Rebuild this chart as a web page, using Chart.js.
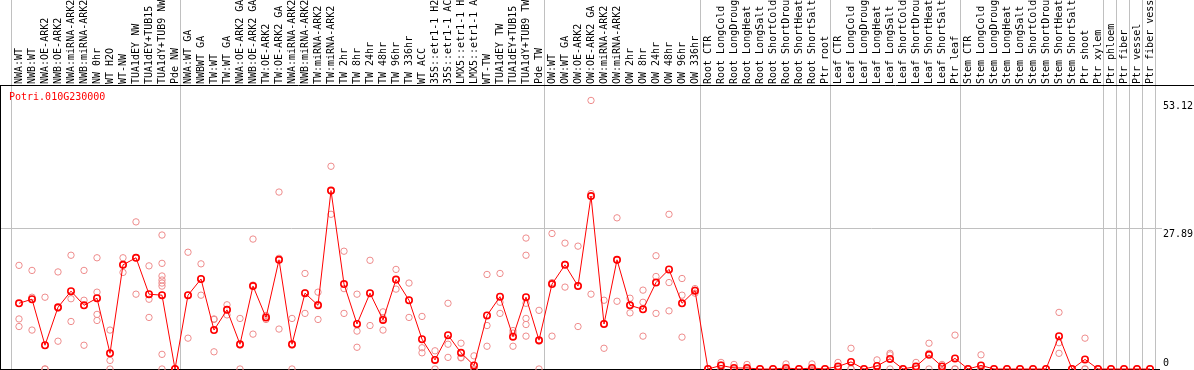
<!DOCTYPE html>
<html><head><meta charset="utf-8">
<script src="https://cdn.jsdelivr.net/npm/chart.js@4/dist/chart.umd.min.js"></script>
<style>html,body{margin:0;padding:0;background:#fff;overflow:hidden;}</style>
</head><body>
<canvas id="c" width="1194" height="370" style="display:block;width:1194px;height:370px"></canvas>
<script>
const geneName = "Potri.010G230000";
const categories = [
 "NWA:WT","NWB:WT","NWA:OE-ARK2","NWB:OE-ARK2","NWA:miRNA-ARK2","NWB:miRNA-ARK2","NW 0hr","WT H2O","WT-NW","TUA1dEY NW","TUA1dEY+TUB15","TUA1dY+TUB9 NW","Pde NW",
 "NWA:WT GA","NWBWT GA","TW:WT","TW:WT GA","NWA:OE-ARK2 GA","NWB:OE-ARK2 GA","TW:OE-ARK2","TW:OE-ARK2 GA","NWA:miRNA-ARK2 GA","NWB:miRNA-ARK2 GA","TW:miRNA-ARK2","TW:miRNA-ARK2",
 "TW 2hr","TW 8hr","TW 24hr","TW 48hr","TW 96hr","TW 336hr","WT ACC","35S::etr1-1 H2O","35S::etr1-1 ACC","LMX5::etr1-1 H2O","LMX5::etr1-1 ACC","WT-TW","TUA1dEY TW","TUA1dEY+TUB15","TUA1dY+TUB9 TW","Pde TW",
 "OW:WT","OW:WT GA","OW:OE-ARK2","OW:OE-ARK2 GA","OW:miRNA-ARK2","OW:miRNA-ARK2","OW 2hr","OW 8hr","OW 24hr","OW 48hr","OW 96hr","OW 336hr",
 "Root CTR","Root LongCold","Root LongDrought","Root LongHeat","Root LongSalt","Root ShortCold","Root ShortDrought","Root ShortHeat","Root ShortSalt","Ptr root",
 "Leaf CTR","Leaf LongCold","Leaf LongDrought","Leaf LongHeat","Leaf LongSalt","Leaf ShortCold","Leaf ShortDrought","Leaf ShortHeat","Leaf ShortSalt","Ptr leaf",
 "Stem CTR","Stem LongCold","Stem LongDrought","Stem LongHeat","Stem LongSalt","Stem ShortCold","Stem ShortDrought","Stem ShortHeat","Stem ShortSalt","Ptr shoot","Ptr xylem",
 "Ptr phloem","Ptr fiber","Ptr vessel","Ptr fiber vessel"
];
const meanValues = [
 13.0,13.8,4.7,12.2,15.4,12.6,14.0,3.1,20.6,22.0,14.8,14.6,0,
 14.6,17.8,7.7,11.7,4.9,16.4,10.2,21.6,4.9,15.0,12.6,35.3,
 16.8,8.9,15.0,9.7,17.7,13.6,5.9,1.8,6.7,3.2,0.7,10.6,14.3,6.4,14.2,5.7,
 16.8,20.6,16.4,34.2,8.9,21.6,12.6,11.8,17.1,19.7,13.0,15.5,
 0,0.7,0.2,0.2,0,0,0.2,0,0.2,0,
 0.5,1.4,0,0.6,2.0,0,0.5,2.8,0.5,2.1,
 0,0.7,0,0,0,0,0,6.5,0,1.9,0,
 0,0,0,0
];
const replicateValues = [
 [20.5,9.9,8.4],[19.5,14.2,7.7],[14.2,0,0],[19.2,12.0,5.5],[22.5,13.9,9.4],[19.5,13.6,4.7],[22.0,15.2,10.8,9.6],[7.7,1.7,0],[22.0,20.6,19.1],[29.1,22.0,14.8],[20.4,13.8,10.2],[26.5,20.9,18.4,17.6,17.0,16.4,14.6,2.9,0],[0,0,0],
 [23.1,14.6,6.1],[20.8,17.8,14.6],[9.9,9.8,3.4],[12.7,11.7,10.7],[10.0,4.7,0],[25.7,16.6,6.9],[10.6,10.2,9.8],[35.0,21.9,7.9],[10.0,4.7,0],[18.9,15.1,11.0],[15.2,12.8,9.8],[40.1,35.2,30.6],
 [23.3,15.9,11.0],[14.8,7.5,4.3],[21.5,15.0,8.6],[11.3,10.1,7.7],[19.7,17.6,15.8],[17.0,13.6,10.2],[10.4,4.2,3.2],[3.6,1.8,0],[13.0,4.9,2.3],[5.1,2.3,2.2],[2.6,0,0],[18.7,8.6,4.5],[18.9,13.2,11.0],[7.6,7.1,4.5],[25.9,22.5,13.0,10.0,8.8,6.5],[11.6,5.5,0],
 [26.8,17.1,6.5],[24.9,20.7,16.2],[24.3,16.5,8.4],[53.12,34.7,14.8],[13.6,9.0,4.1],[29.9,21.5,13.4],[14.0,12.7,11.1],[15.6,13.2,6.5],[22.4,18.3,11.0],[30.6,17.1,11.5],[17.9,14.6,6.3],[15.9,15.6,15.0],
 [0,0,0],[1.3,0.8,0],[0.9,0,0],[0.9,0,0],[0,0,0],[0,0,0],[1.0,0,0],[0,0,0],[1.0,0,0],[0,0,0],
 [1.3,0.2,0],[4.1,0.1,0],[0,0,0],[1.8,0,0],[3.1,2.8,0],[0,0,0],[1.3,0.2,0],[5.1,3.1,0],[0.9,0.5,0],[6.7,0,0],
 [0,0,0],[2.8,0,0],[0,0,0],[0,0,0],[0,0,0],[0,0,0],[0,0,0],[11.2,5.2,3.1],[0,0,0],[6.1,0,0],[0,0,0],
 [0,0,0],[0,0,0],[0,0,0],[0,0,0]
];
const yTickValues = [0, 27.89, 53.12];
const yGridValues = [27.89];
const groupStarts = [0, 13, 41, 53, 63, 73, 84, 85, 86, 87, 88];

const FONT = '10px "DejaVu Sans Mono", "Liberation Mono", monospace';

const meanData = meanValues.map((v, i) => ({x: i, y: v}));
const repData = [];
replicateValues.forEach((arr, i) => arr.forEach(v => repData.push({x: i, y: v})));

const decor = {
  id: 'decor',
  beforeDatasetsDraw(chart) {
    const ctx = chart.ctx, xs = chart.scales.x, ys = chart.scales.y, a = chart.chartArea;
    ctx.save();
    ctx.lineWidth = 1;
    ctx.strokeStyle = '#c0c0c0';
    groupStarts.forEach(k => {
      const px = Math.floor(xs.getPixelForValue(k - 0.55)) + 0.5;
      ctx.beginPath(); ctx.moveTo(px, 0); ctx.lineTo(px, a.bottom); ctx.stroke();
    });
    yGridValues.forEach(v => {
      const py = Math.round(ys.getPixelForValue(v)) + 0.5;
      ctx.beginPath(); ctx.moveTo(a.left, py); ctx.lineTo(a.right + 2, py); ctx.stroke();
    });
    ctx.strokeStyle = '#000';
    ctx.beginPath(); ctx.moveTo(0, a.top + 0.5); ctx.lineTo(chart.width, a.top + 0.5); ctx.stroke();
    ctx.beginPath(); ctx.moveTo(0, a.bottom + 0.5); ctx.lineTo(a.right, a.bottom + 0.5); ctx.stroke();
    ctx.beginPath(); ctx.moveTo(0.5, a.top); ctx.lineTo(0.5, a.bottom); ctx.stroke();
    ctx.restore();
  },
  afterDraw(chart) {
    const ctx = chart.ctx, xs = chart.scales.x, ys = chart.scales.y, a = chart.chartArea;
    ctx.save();
    ctx.font = FONT;
    ctx.fillStyle = '#000';
    categories.forEach((lab, i) => {
      const px = xs.getPixelForValue(i);
      ctx.save();
      ctx.translate(px, a.top - 1);
      ctx.rotate(-Math.PI / 2);
      ctx.textAlign = 'left';
      ctx.textBaseline = 'middle';
      ctx.fillText(lab, 0, 0);
      ctx.restore();
    });
    ctx.textAlign = 'left';
    yTickValues.forEach(v => {
      const py = ys.getPixelForValue(v);
      if (v === 0) { ctx.textBaseline = 'bottom'; ctx.fillText(String(v), a.right + 3, py - 1); }
      else { ctx.textBaseline = 'top'; ctx.fillText(String(v), a.right + 3, py + 1); }
    });
    ctx.fillStyle = '#ff0000';
    ctx.textBaseline = 'middle';
    ctx.fillText(geneName, 9, 97);
    ctx.restore();
  }
};

new Chart(document.getElementById('c'), {
  data: {
    datasets: [
      {type: 'line', data: meanData, order: 0, borderColor: '#ff0000', borderWidth: 1,
       pointRadius: 3.2, pointBorderWidth: 1.6, pointBorderColor: '#ff0000', pointBackgroundColor: 'rgba(0,0,0,0)',
       tension: 0, fill: false, clip: false},
      {type: 'scatter', data: repData, order: 1, borderColor: '#ee8c8c', backgroundColor: 'rgba(0,0,0,0)',
       pointRadius: 3.2, pointBorderWidth: 1, clip: false}
    ]
  },
  options: {
    responsive: false,
    animation: false,
    devicePixelRatio: 1,
    layout: {autoPadding: false, padding: {left: 1, top: 85, right: 34, bottom: 1}},
    scales: {
      x: {type: 'linear', display: false, min: -18 / 13, max: -18 / 13 + 1159 / 13},
      y: {type: 'linear', display: false, min: 0, max: 284 / 5.0556}
    },
    plugins: {legend: {display: false}, tooltip: {enabled: false}},
    events: []
  },
  plugins: [decor]
});
</script>
</body></html>
